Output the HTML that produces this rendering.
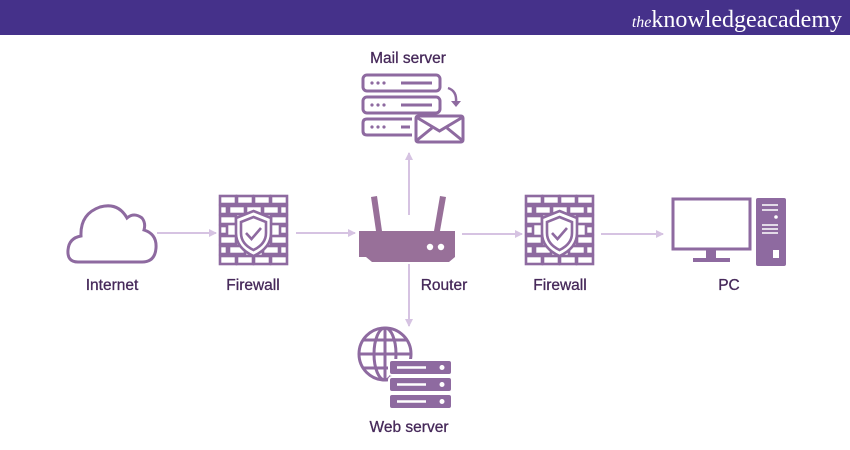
<!DOCTYPE html>
<html><head><meta charset="utf-8"><style>
html,body{margin:0;padding:0;background:#fff;}
svg{display:block}
text{font-family:"Liberation Sans",sans-serif;}
</style></head><body>
<svg width="850" height="450" viewBox="0 0 850 450" xmlns="http://www.w3.org/2000/svg">
<defs>
<marker id="ah" markerWidth="8" markerHeight="8" refX="7" refY="4" orient="auto" markerUnits="userSpaceOnUse">
<path d="M0,0 L8,4 L0,8 z" fill="#d6c3e2"/>
</marker>
<g id="fw" fill="none" stroke="#8e6aa0" stroke-width="2.6">
<rect x="1" y="1" width="16" height="8"/><rect x="18" y="1" width="16" height="8"/><rect x="35" y="1" width="16" height="8"/><rect x="52" y="1" width="16" height="8"/>
<rect x="1" y="11" width="7" height="8"/><rect x="10" y="11" width="16" height="8"/><rect x="27" y="11" width="16" height="8"/><rect x="44" y="11" width="16" height="8"/><rect x="61" y="11" width="7" height="8"/>
<rect x="1" y="21" width="16" height="8"/><rect x="52" y="21" width="16" height="8"/>
<rect x="1" y="31" width="7" height="8"/><rect x="61" y="31" width="7" height="8"/>
<rect x="1" y="41" width="16" height="8"/><rect x="52" y="41" width="16" height="8"/>
<rect x="1" y="51" width="7" height="8"/><rect x="10" y="51" width="16" height="8"/><rect x="44" y="51" width="16" height="8"/><rect x="61" y="51" width="7" height="8"/>
<rect x="1" y="61" width="16" height="8"/><rect x="18" y="61" width="16" height="8"/><rect x="35" y="61" width="16" height="8"/><rect x="52" y="61" width="16" height="8"/>
<path d="M34.5,16 L52,23 L52,38 Q52,53 34.5,61 Q17,53 17,38 L17,23 Z" fill="#fff"/>
<path d="M34.5,22 L47,27 L47,38 Q47,49 34.5,55 Q22,49 22,38 L22,27 Z"/>
<path d="M27,38 L32.5,44 L42,33"/>
</g>
</defs>
<rect x="0" y="0" width="850" height="35" fill="#45318a"/>
<text x="842" y="27" text-anchor="end" font-size="24" fill="#fff" style="font-family:'Liberation Serif',serif"><tspan font-style="italic" font-size="16">the</tspan>knowledgeacademy</text>

<g stroke="#d6c3e2" stroke-width="2" fill="none" marker-end="url(#ah)">
<line x1="157" y1="233" x2="216" y2="233"/>
<line x1="296" y1="233" x2="355" y2="233"/>
<line x1="462" y1="234" x2="522" y2="234"/>
<line x1="601" y1="234" x2="663" y2="234"/>
<line x1="409" y1="215" x2="409" y2="153"/>
<line x1="409" y1="264" x2="409" y2="326"/>
</g>

<path d="M78,262 Q67,262 68,250 Q69,238 81,236 Q80,214 100,207 Q118,202 127,218 Q134,212 142,218 Q146,223 144,230 Q157,234 156,248 Q155,262 142,262 Z" fill="none" stroke="#8e6aa0" stroke-width="3"/>

<use href="#fw" x="219" y="195"/>
<use href="#fw" x="525" y="195"/>

<g fill="#987099">
<path d="M371,197 L377,196 L382,231 L376,231 Z"/>
<path d="M440,196 L446,197 L440,231 L434,231 Z"/>
<path d="M359,231 L455,231 L455,257 L449,262 L372,262 L366,257 L359,257 Z"/>
</g>
<circle cx="430" cy="247" r="3.2" fill="#fff"/><circle cx="441" cy="247" r="3.2" fill="#fff"/>

<rect x="673" y="199" width="77" height="50" fill="none" stroke="#8e6aa0" stroke-width="3"/>
<rect x="706" y="250" width="10" height="9" fill="#8e6aa0"/>
<rect x="693" y="258" width="37" height="4" fill="#8e6aa0"/>
<rect x="756" y="198" width="30" height="68" rx="2" fill="#8e6aa0"/>
<g stroke="#fff" stroke-width="1.5"><line x1="762" y1="205" x2="778" y2="205"/><line x1="762" y1="210" x2="778" y2="210"/><line x1="762" y1="225" x2="778" y2="225"/><line x1="762" y1="229" x2="778" y2="229"/><line x1="762" y1="233" x2="778" y2="233"/></g>
<circle cx="776" cy="217" r="1.8" fill="#fff"/>
<rect x="773" y="250" width="6" height="8" fill="#fff"/>

<g fill="none" stroke="#8e6aa0" stroke-width="3">
<rect x="363" y="75" width="77" height="16" rx="4"/>
<rect x="363" y="97" width="77" height="16" rx="4"/>
<path d="M412,119 L367,119 Q363,119 363,123 L363,131 Q363,135 367,135 L412,135"/>
<line x1="401" y1="83" x2="432" y2="83"/><line x1="401" y1="105" x2="432" y2="105"/><line x1="401" y1="127" x2="410" y2="127"/>
<path d="M448,88 Q457,91 456,102" stroke-width="2.5"/>
<rect x="416" y="116" width="47" height="26" rx="2"/>
<path d="M416,117 L439.5,131 L463,117 M416,141 L432,128 M463,141 L447,128"/>
</g>
<path d="M451,101 L456,107 L461,101 Z" fill="#8e6aa0"/>
<g fill="#8e6aa0"><circle cx="372" cy="83" r="1.6"/><circle cx="378" cy="83" r="1.6"/><circle cx="384" cy="83" r="1.6"/><circle cx="372" cy="105" r="1.6"/><circle cx="378" cy="105" r="1.6"/><circle cx="384" cy="105" r="1.6"/><circle cx="372" cy="127" r="1.6"/><circle cx="378" cy="127" r="1.6"/><circle cx="384" cy="127" r="1.6"/></g>

<g fill="none" stroke="#8e6aa0" stroke-width="3">
<circle cx="385" cy="354" r="26"/>
<ellipse cx="385" cy="354" rx="11" ry="26"/>
<line x1="359" y1="354" x2="411" y2="354"/>
<path d="M363,340 L407,340 M363,368 L407,368"/>
<line x1="385" y1="328" x2="385" y2="380"/>
</g>
<rect x="389" y="360" width="63" height="15" rx="3" fill="#8e6aa0" stroke="#fff" stroke-width="2"/>
<rect x="389" y="377" width="63" height="15" rx="3" fill="#8e6aa0" stroke="#fff" stroke-width="2"/>
<rect x="389" y="394" width="63" height="15" rx="3" fill="#8e6aa0" stroke="#fff" stroke-width="2"/>
<g stroke="#fff" stroke-width="2.5"><line x1="397" y1="367.5" x2="426" y2="367.5"/><line x1="397" y1="384.5" x2="426" y2="384.5"/><line x1="397" y1="401.5" x2="426" y2="401.5"/></g>
<g fill="#fff"><circle cx="442" cy="367.5" r="2.5"/><circle cx="442" cy="384.5" r="2.5"/><circle cx="442" cy="401.5" r="2.5"/></g>

<g font-size="15.5" fill="#46295a" text-anchor="middle" stroke="#46295a" stroke-width="0.3">
<text x="408" y="63">Mail server</text>
<text x="112" y="290">Internet</text>
<text x="253" y="290">Firewall</text>
<text x="444" y="290">Router</text>
<text x="560" y="290">Firewall</text>
<text x="729" y="290">PC</text>
<text x="409" y="432">Web server</text>
</g>
</svg>
</body></html>
